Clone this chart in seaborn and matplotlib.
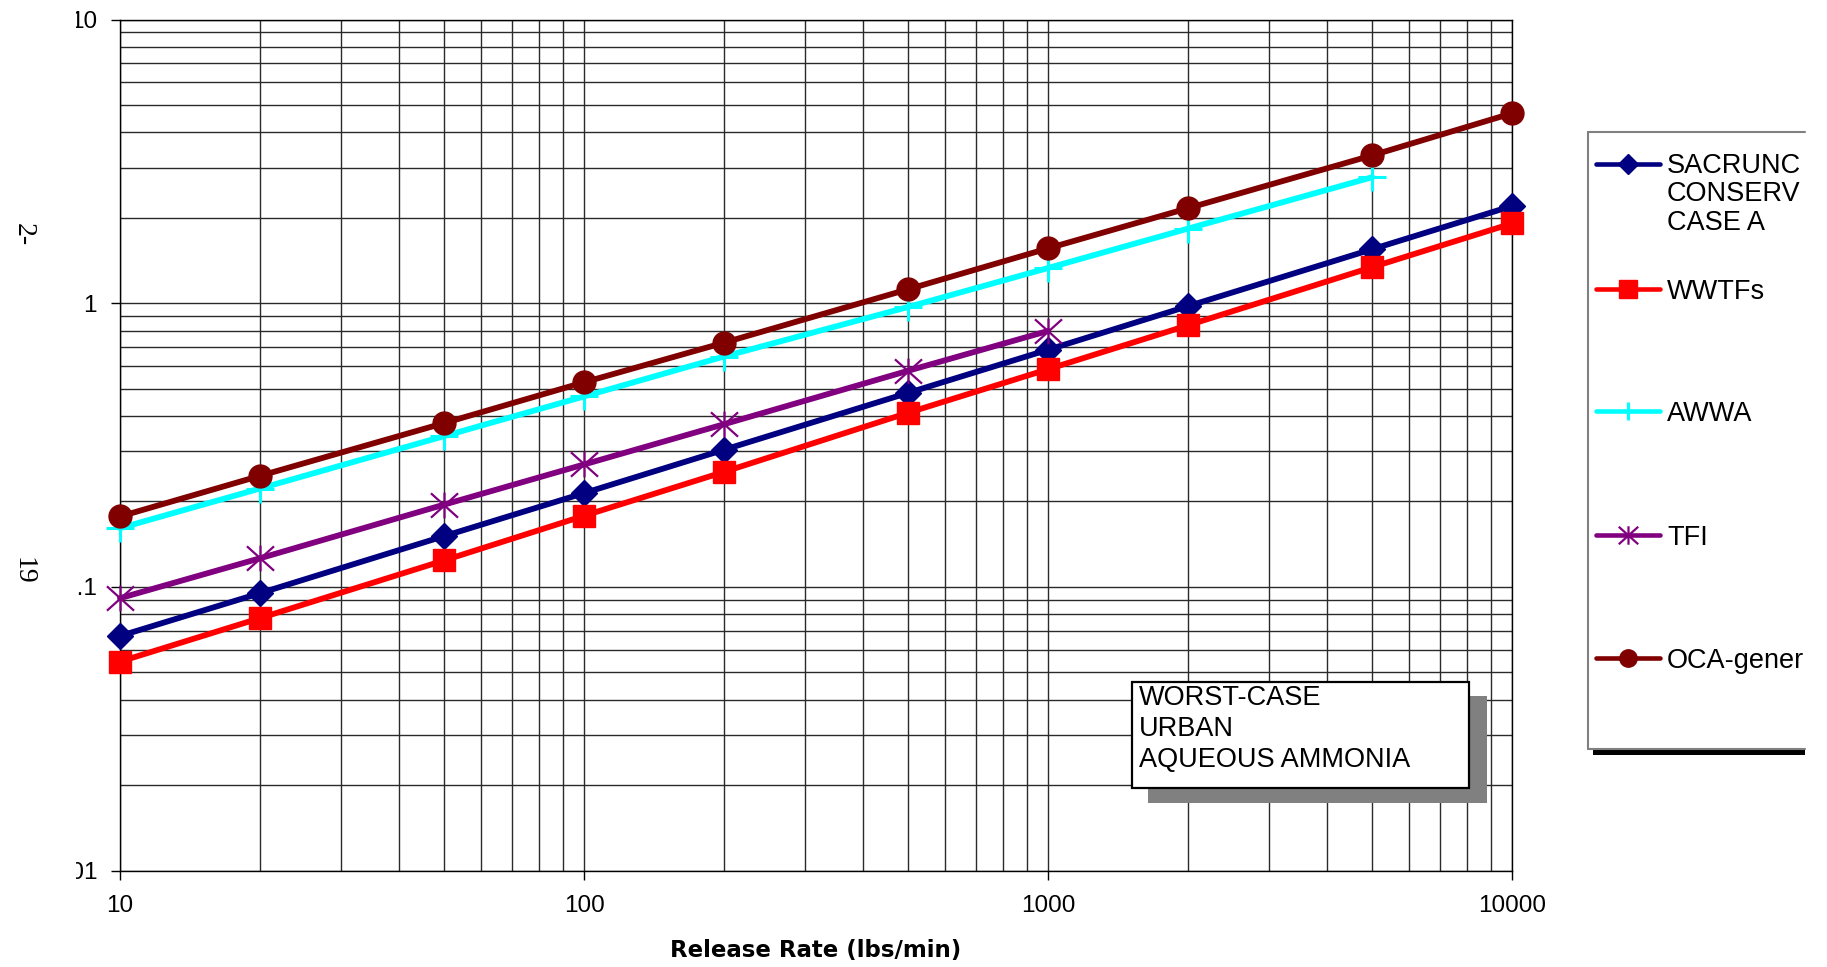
import numpy as np
import pandas as pd
import matplotlib
matplotlib.use("Agg")
import matplotlib.pyplot as plt
import seaborn as sns
from matplotlib.path import Path
from matplotlib.patches import Rectangle
from matplotlib.lines import Line2D
from matplotlib.ticker import LogLocator, NullFormatter, FixedLocator, FixedFormatter
from matplotlib.transforms import Bbox, TransformedBbox

# ---------------- data ----------------
release_rate = [10, 20, 50, 100, 200, 500, 1000, 2000, 5000, 10000]
sacrunc = [0.0671, 0.0949, 0.151, 0.214, 0.304, 0.483, 0.685, 0.975, 1.55, 2.20]
wwtfs = [0.0545, 0.0775, 0.124, 0.178, 0.254, 0.411, 0.585, 0.835, 1.34, 1.91]
awwa = [0.161, 0.222, 0.340, 0.469, 0.648, 0.97, 1.33, 1.83, 2.78]
tfi = [0.0912, 0.126, 0.195, 0.270, 0.374, 0.578, 0.798]
oca = [0.177, 0.246, 0.378, 0.526, 0.725, 1.12, 1.56, 2.16, 3.32, 4.67]

# legend labels as visible in the reference (cut at the right edge there)
series_labels = ["SACRUNC\nCONSERV\nCASE A", "WWTFs", "AWWA", "TFI", "OCA-gener"]
series_values = [sacrunc, wwtfs, awwa, tfi, oca]
series_colors = ["#000080", "#FF0000", "#00FFFF", "#800080", "#800000"]

y_ticks = [0.01, 0.1, 1, 10]
y_ticklabels = ["0.01", "0.1", "1", "10"]
x_ticks = [10, 100, 1000, 10000]
x_ticklabels = ["10", "100", "1000", "10000"]
x_label = "Release Rate (lbs/min)"
box_lines = "WORST-CASE\nURBAN\nAQUEOUS AMMONIA"
side_texts = ["2-", "19"]

# ---------------- style ----------------
sns.set_style("white")
plt.rcParams["font.family"] = ["Liberation Sans", "DejaVu Sans"]
plt.rcParams["text.color"] = "black"
plt.rcParams["axes.labelcolor"] = "black"
plt.rcParams["xtick.color"] = "black"
plt.rcParams["ytick.color"] = "black"

W, H = 1827, 967
fig = plt.figure(figsize=(W / 100, H / 100), dpi=100)


def fx(px):
    return px / W


def fy(py):
    return 1 - py / H


ax = fig.add_axes([fx(120), fy(870.5), fx(1512) - fx(120), (870.5 - 19.5) / H])

star_path = Path(
    [(-1, -0.9), (1, 0.9), (-1, 0.9), (1, -0.9), (0, -0.95), (0, 0.95)],
    [Path.MOVETO, Path.LINETO, Path.MOVETO, Path.LINETO, Path.MOVETO, Path.LINETO],
)

markers = ["D", "s", "+", star_path, "o"]
msizes = [13.5, 16, 20, 19.5, 16.5]
mews = [1, 1, 2.2, 1.6, 1]

for lab, vals, col, mk, ms, mew in zip(series_labels, series_values, series_colors, markers, msizes, mews):
    df = pd.DataFrame({"rate": release_rate[: len(vals)], "value": vals})
    sns.lineplot(
        data=df, x="rate", y="value", ax=ax, color=col, linewidth=4.2,
        marker=mk, markersize=ms, markeredgewidth=mew,
        markeredgecolor=col, markerfacecolor=col, legend=False, zorder=3,
        clip_on=False,
    )

ax.set_xscale("log")
ax.set_yscale("log")
ax.set_xlim(10, 10000)
ax.set_ylim(0.01, 10)

ax.xaxis.set_major_locator(FixedLocator(x_ticks))
ax.xaxis.set_major_formatter(FixedFormatter(x_ticklabels))
ax.yaxis.set_major_locator(FixedLocator(y_ticks))
ax.yaxis.set_major_formatter(FixedFormatter(y_ticklabels))
ax.xaxis.set_minor_locator(LogLocator(base=10, subs=range(2, 10)))
ax.yaxis.set_minor_locator(LogLocator(base=10, subs=range(2, 10)))
ax.xaxis.set_minor_formatter(NullFormatter())
ax.yaxis.set_minor_formatter(NullFormatter())

ax.grid(which="both", color="#2a2a2a", linewidth=1.0)
ax.tick_params(which="major", direction="out", length=6.5, width=1, color="black",
               labelcolor="black", labelsize=17.5, left=True, bottom=True)
ax.tick_params(axis="y", which="major", pad=10)
ax.tick_params(axis="x", which="major", pad=11)
ax.tick_params(which="minor", length=0)
for s in ax.spines.values():
    s.set_color("black")
    s.set_linewidth(1)

ax.set_xlabel(x_label, fontsize=16.5, fontweight="bold", family="DejaVu Sans",
              labelpad=16, color="black")
ax.set_ylabel("")

# the reference is cropped at the left, cutting into the y tick labels
left_clip = TransformedBbox(Bbox([[fx(75.5), 0], [1, 1]]), fig.transFigure)
for t in ax.yaxis.get_major_ticks():
    t.label1.set_clip_box(left_clip)
    t.label1.set_clip_on(True)

# side page marks
fig.text(fx(23), fy(235), side_texts[0], rotation=-90, ha="center", va="center",
         fontsize=20, family="Liberation Serif", color="black")
fig.text(fx(23), fy(571), side_texts[1], rotation=-90, ha="center", va="center",
         fontsize=20, family="Liberation Serif", color="black")

# annotation box with shadow
fig.patches.append(Rectangle((fx(1148), fy(803)), fx(1487) - fx(1148), (803 - 696) / H,
                             transform=fig.transFigure, facecolor="#808080",
                             edgecolor="none", zorder=5))
fig.patches.append(Rectangle((fx(1132), fy(788)), fx(1469) - fx(1132), (788 - 682) / H,
                             transform=fig.transFigure, facecolor="white",
                             edgecolor="black", linewidth=1.6, zorder=6))
# multi-line baseline alignment uses the last line
fig.text(fx(1139), fy(767), box_lines, ha="left", va="baseline", fontsize=19.5,
         linespacing=1.24, zorder=7, color="black")

# legend (drawn by hand so the handle sits on the first label line)
fig.patches.append(Rectangle((fx(1593), fy(755)), fx(1805) - fx(1593), 6 / H,
                             transform=fig.transFigure, facecolor="black",
                             edgecolor="none", zorder=5))
fig.patches.append(Rectangle((fx(1588), fy(749)), fx(1805) - fx(1588), (749 - 132) / H,
                             transform=fig.transFigure, facecolor="white",
                             edgecolor="none", zorder=6))
for xs, ys in [([1588, 1805], [132, 132]), ([1588, 1588], [132, 749]), ([1588, 1805], [749, 749])]:
    fig.lines.append(Line2D([fx(v) for v in xs], [fy(v) for v in ys], transform=fig.transFigure,
                            color="#808080", linewidth=1.5, zorder=7))

entry_y = [164, 289, 411, 535, 658]
leg_ms = [10, 13, 13, 14, 12.5]
leg_pitch = 27.8
for lab, col, mk, ms, mew, yy in zip(series_labels, series_colors, markers, leg_ms, mews, entry_y):
    fig.lines.append(Line2D([fx(1596), fx(1660)], [fy(yy), fy(yy)], transform=fig.transFigure,
                            color=col, linewidth=3.3, solid_capstyle="round", zorder=8))
    fig.lines.append(Line2D([fx(1628)], [fy(yy)], transform=fig.transFigure, color=col,
                            marker=mk, markersize=ms, markeredgewidth=mew,
                            markeredgecolor=col, markerfacecolor=col, linestyle="none", zorder=9))
    nlines = lab.count("\n")
    fig.text(fx(1667), fy(yy + 10 + nlines * leg_pitch), lab, ha="left", va="baseline",
             fontsize=19.5, linespacing=1.12, zorder=9, color="black")

fig.savefig("out.png", dpi=100, facecolor="white")
